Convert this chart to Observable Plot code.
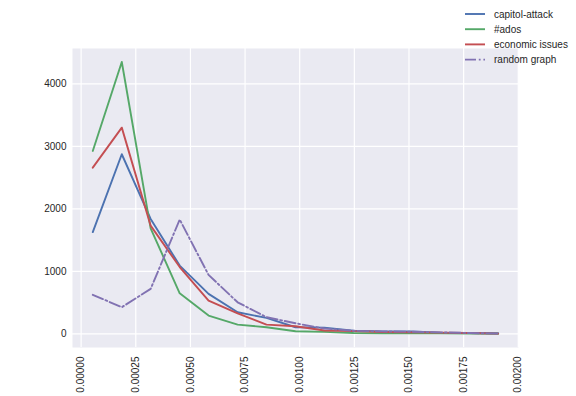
<!DOCTYPE html>
<html><head><meta charset="utf-8">
<script src="https://cdn.jsdelivr.net/npm/d3@7"></script>
<script src="https://cdn.jsdelivr.net/npm/@observablehq/plot@0.6"></script>
<style>
body{margin:0;background:#fff;font-family:"Liberation Sans",Arial,sans-serif}
#wrap{position:relative;width:576px;height:396px}
#legend{position:absolute;left:463px;top:6px}
</style></head><body><div id="wrap"><div id="legend"></div></div>
<script>
const xValues = [0.0000533, 0.000186, 0.000318, 0.000451, 0.000583, 0.000716, 0.000848, 0.000981, 0.001113, 0.001246, 0.001378, 0.001511, 0.001643, 0.001776, 0.001908];
const seriesNames = ["capitol-attack", "#ados", "economic issues", "random graph"];
const seriesColors = ["#4C72B0", "#55A868", "#C44E52", "#8172B2"];
const seriesDash = [null, null, null, "11,2.8,1.8,2.8"];
const capitolAttack = [1630, 2875, 1840, 1093, 640, 346, 256, 107, 100, 50, 40, 40, 20, 15, 10];
const ados = [2928, 4352, 1690, 650, 293, 149, 107, 43, 32, 15, 10, 8, 10, 5, 3];
const economicIssues = [2661, 3301, 1733, 1070, 533, 330, 149, 122, 55, 45, 30, 25, 20, 15, 5];
const randomGraph = [626, 427, 720, 1830, 944, 506, 267, 170, 86, 50, 40, 35, 25, 15, 5];
const seriesValues = [capitolAttack, ados, economicIssues, randomGraph];
const xTicks = [0, 0.00025, 0.0005, 0.00075, 0.001, 0.00125, 0.0015, 0.00175, 0.002];
const yTicks = [0, 1000, 2000, 3000, 4000];

const data = seriesNames.flatMap((s, i) => seriesValues[i].map((v, j) => ({series: s, x: xValues[j], y: v})));

const chart = Plot.plot({
  width: 576, height: 396,
  marginLeft: 72, marginRight: 58, marginTop: 48, marginBottom: 49,
  style: {fontFamily: "'Liberation Sans', Arial, sans-serif", fontSize: "10px", color: "#262626", background: "white"},
  x: {domain: [-0.0000395, 0.002001]},
  y: {domain: [-217.5, 4567.5]},
  marks: [
    Plot.frame({fill: "#EAEAF2", stroke: null}),
    Plot.ruleX(xTicks, {x: d => d, stroke: "white", strokeWidth: 1.2}),
    Plot.ruleY(yTicks, {y: d => d, stroke: "white", strokeWidth: 1.2}),
    ...seriesNames.map((s, i) => Plot.line(data.filter(d => d.series === s), {
      x: "x", y: "y", stroke: seriesColors[i], strokeWidth: 1.9,
      strokeDasharray: seriesDash[i] || undefined, strokeLinejoin: "round"
    })),
    Plot.axisX({ticks: xTicks, tickSize: 0, tickPadding: 9, tickRotate: -90, tickFormat: d => d.toFixed(5), label: null, fill: "#262626"}),
    Plot.axisY({ticks: yTicks, tickSize: 0, tickPadding: 6, tickFormat: d => String(d), label: null, fill: "#262626"})
  ]
});
document.getElementById("wrap").prepend(chart);

const rowH = 15.2;
const lg = d3.select("#legend").append("svg").attr("width", 113).attr("height", 62)
  .style("font-family", "'Liberation Sans', Arial, sans-serif").style("font-size", "10px");
seriesNames.forEach((s, i) => {
  const y = 8 + i * rowH;
  lg.append("line").attr("x1", 2).attr("x2", 22).attr("y1", y).attr("y2", y)
    .attr("stroke", seriesColors[i]).attr("stroke-width", 1.9)
    .attr("stroke-dasharray", seriesDash[i]);
  lg.append("text").attr("x", 31).attr("y", y).attr("dy", "0.35em").attr("fill", "#262626").text(s);
});
</script></body></html>
